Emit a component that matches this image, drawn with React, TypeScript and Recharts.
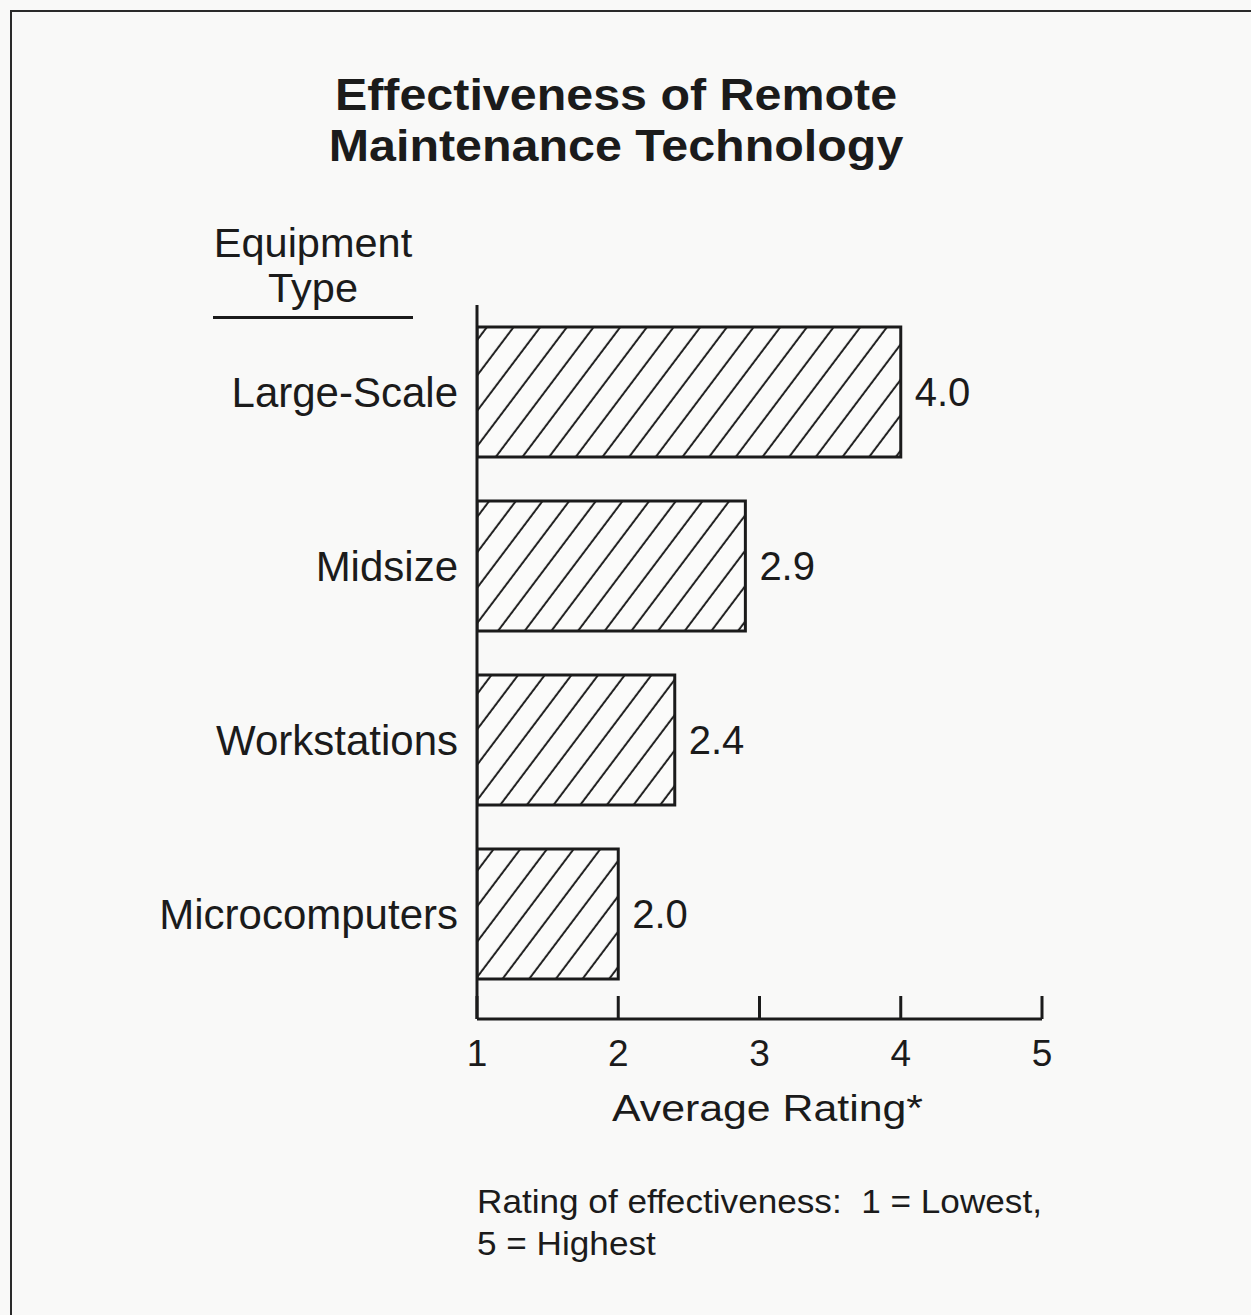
import { BarChart, Bar, XAxis, YAxis, LabelList, Label } from 'recharts';

const categories = ['Large-Scale', 'Midsize', 'Workstations', 'Microcomputers'];
const ratings = [4.0, 2.9, 2.4, 2.0];
const ratingTicks = [1, 2, 3, 4, 5];

const titleLines = ['Effectiveness of Remote', 'Maintenance Technology'];
const footnoteLines = ['Rating of effectiveness:  1 = Lowest,', '5 = Highest'];

const INK = '#1b1b1b';
const FONT = '"Liberation Sans", Arial, Helvetica, sans-serif';

const data = categories.map((name, i) => ({ name, value: ratings[i] }));

// ticks point up into the plot, labels sit under the axis
const RatingTick = (props: any) => {
  const { x, y, payload } = props;
  return (
    <g>
      <line x1={x} y1={y} x2={x} y2={y - 23} stroke={INK} strokeWidth={3} />
      <text x={x} y={y + 47} textAnchor="middle" fontSize={37} fill={INK} fontFamily={FONT}>
        {payload.value}
      </text>
    </g>
  );
};

const AxisTitle = (props: any) => {
  const vb = props.viewBox || { x: 0, y: 0, width: 0 };
  const cx = vb.x + vb.width / 2 + 8;
  return (
    <text
      x={0}
      y={0}
      transform={`translate(${cx},${vb.y + 102}) scale(1.19,1)`}
      textAnchor="middle"
      fontSize={36}
      fill={INK}
      fontFamily={FONT}
    >
      Average Rating*
    </text>
  );
};

const App = () => {
  return (
    <div
      style={{
        position: 'absolute',
        left: 0,
        top: 0,
        width: 1251,
        height: 1315,
        background: '#f9f9f8',
        overflow: 'hidden',
        fontFamily: FONT,
        color: INK,
      }}
    >
      {/* scanned frame: only top and left edges show */}
      <div
        style={{
          position: 'absolute',
          left: 10,
          top: 10,
          width: 1300,
          height: 1400,
          borderTop: '2px solid #2a2a2a',
          borderLeft: '2px solid #2a2a2a',
        }}
      />

      <div
        style={{
          position: 'absolute',
          left: 616 - 400,
          top: 69,
          width: 800,
          textAlign: 'center',
          fontSize: 44,
          lineHeight: '51px',
          fontWeight: 'bold',
          transform: 'scaleX(1.1)',
          transformOrigin: '400px 0',
        }}
      >
        {titleLines.map((t) => (
          <div key={t}>{t}</div>
        ))}
      </div>

      <div
        style={{
          position: 'absolute',
          left: 213,
          top: 220,
          width: 200,
          textAlign: 'center',
          fontSize: 41.5,
          lineHeight: '45px',
          whiteSpace: 'nowrap',
        }}
      >
        <div>Equipment</div>
        <div>Type</div>
      </div>
      <div style={{ position: 'absolute', left: 213, top: 316, width: 200, height: 3, background: INK }} />

      <div style={{ position: 'absolute', left: 0, top: 0 }}>
        <BarChart
          width={1251}
          height={1315}
          data={data}
          layout="vertical"
          margin={{ top: 305, right: 209, bottom: 196, left: 0 }}
        >
          <defs>
            <pattern
              id="hatch"
              patternUnits="userSpaceOnUse"
              width={21.3}
              height={21.3}
              patternTransform="rotate(37)"
            >
              <rect x={0} y={0} width={21.3} height={21.3} fill="#fbfbfa" />
              <line x1={10.6} y1={-2} x2={10.6} y2={24} stroke="#222" strokeWidth={2} />
            </pattern>
          </defs>
          <XAxis
            type="number"
            domain={[1, 5]}
            ticks={ratingTicks}
            allowDataOverflow
            height={100}
            tickSize={0}
            tickMargin={0}
            tickLine={false}
            tick={<RatingTick />}
            axisLine={{ stroke: INK, strokeWidth: 3 }}
          >
            <Label content={<AxisTitle />} />
          </XAxis>
          <YAxis
            type="category"
            dataKey="name"
            width={477}
            padding={{ top: 0, bottom: 18 }}
            tickSize={0}
            tickMargin={19}
            tickLine={false}
            tick={{ fontSize: 42, fill: INK, fontFamily: FONT }}
            axisLine={{ stroke: INK, strokeWidth: 3 }}
          />
          <Bar
            dataKey="value"
            barSize={130}
            fill="url(#hatch)"
            stroke={INK}
            strokeWidth={3}
            isAnimationActive={false}
          >
            <LabelList
              dataKey="value"
              position="right"
              offset={14}
              formatter={(v: any) => Number(v).toFixed(1)}
              style={{ fontSize: 40, fill: INK, fontFamily: FONT }}
            />
          </Bar>
        </BarChart>
      </div>

      <div
        style={{
          position: 'absolute',
          left: 477,
          top: 1181,
          fontSize: 33,
          lineHeight: '42px',
          whiteSpace: 'pre',
          transform: 'scaleX(1.065)',
          transformOrigin: '0 0',
        }}
      >
        {footnoteLines.map((t) => (
          <div key={t}>{t}</div>
        ))}
      </div>
    </div>
  );
};

export default App;
